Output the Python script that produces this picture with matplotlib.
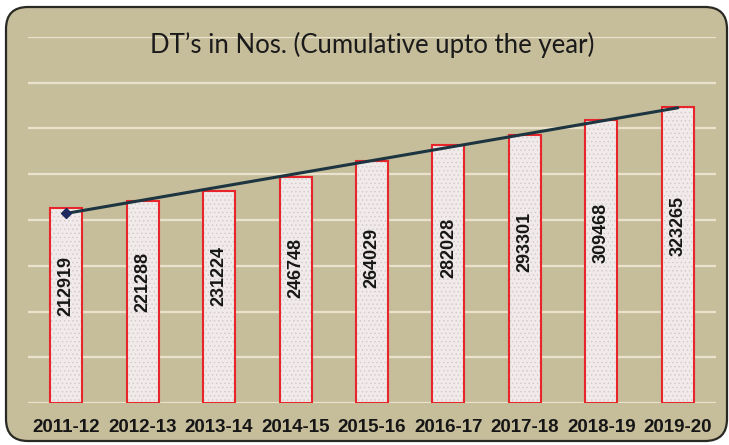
import numpy as np
import matplotlib
matplotlib.use("Agg")
import matplotlib.pyplot as plt
from matplotlib.patches import FancyBboxPatch

categories = ["2011-12", "2012-13", "2013-14", "2014-15", "2015-16",
              "2016-17", "2017-18", "2018-19", "2019-20"]
values = [212919, 221288, 231224, 246748, 264029, 282028, 293301, 309468, 323265]
title = "DT\u2019s in Nos. (Cumulative upto the year)"

W, H = 729, 445
plt.rcParams["hatch.linewidth"] = 0.5
fig = plt.figure(figsize=(W / 100, H / 100), dpi=100)
fig.patch.set_facecolor("white")

# background frame
bg = fig.add_axes([0, 0, 1, 1], zorder=-1)
bg.set_xlim(0, W)
bg.set_ylim(H, 0)
bg.axis("off")
frame = FancyBboxPatch((6, 7), 721, 434, boxstyle="round,pad=0,rounding_size=22",
                       facecolor="#c6bd9b", edgecolor="#2a2a25", linewidth=1.6)
bg.add_patch(frame)

ax = fig.add_axes([28 / W, (H - 403) / H, (716 - 28) / W, (403 - 37) / H])
ax.set_facecolor("none")
x = np.arange(len(categories))
# textured fill (hatch drawn in edge colour, so no visible edge line)
ax.bar(x, values, width=0.42, facecolor="#f1eaea", edgecolor="#d2c9c9",
       linewidth=0, hatch="....", zorder=3)
# red outline
ax.bar(x, values, width=0.42, facecolor="none", edgecolor="#e8252a",
       linewidth=1.5, zorder=4)

# linear trend line
coef = np.polyfit(x, values, 1)
trend = np.polyval(coef, x)
ax.plot(x, trend, color="#1d3540", linewidth=2.2, zorder=5, solid_capstyle="round")
ax.plot(x[:1], trend[:1], marker="D", markersize=5, color="#1f2a5e", zorder=6, linestyle="none")

for xi, v in zip(x, values):
    ax.text(xi, v * 0.6, str(v), rotation=90, ha="center", va="center",
            fontsize=13, fontweight="bold", color="#161616",
            family=["Liberation Sans Narrow", "Liberation Sans"], zorder=7)

ax.set_xlim(-0.5, len(categories) - 0.5)
ax.set_ylim(0, 400000)
ax.set_yticks(np.arange(0, 400001, 50000))
ax.yaxis.grid(True, color="#e9e3cd", linewidth=1.6, zorder=0)
ax.set_axisbelow(True)
ax.tick_params(axis="y", left=False, labelleft=False)
ax.tick_params(axis="x", bottom=False, pad=8)
ax.set_xticks(x)
ax.set_xticklabels(categories, fontsize=13.5, fontweight="bold", color="#161616",
                   family=["Liberation Sans Narrow", "Liberation Sans"])
for s in ax.spines.values():
    s.set_visible(False)

fig.text(372 / W, 1 - 45 / H, title, ha="center", va="center", fontsize=18.5,
         family="Lato", color="#1a1a1a")

fig.savefig("out.png", dpi=100)
